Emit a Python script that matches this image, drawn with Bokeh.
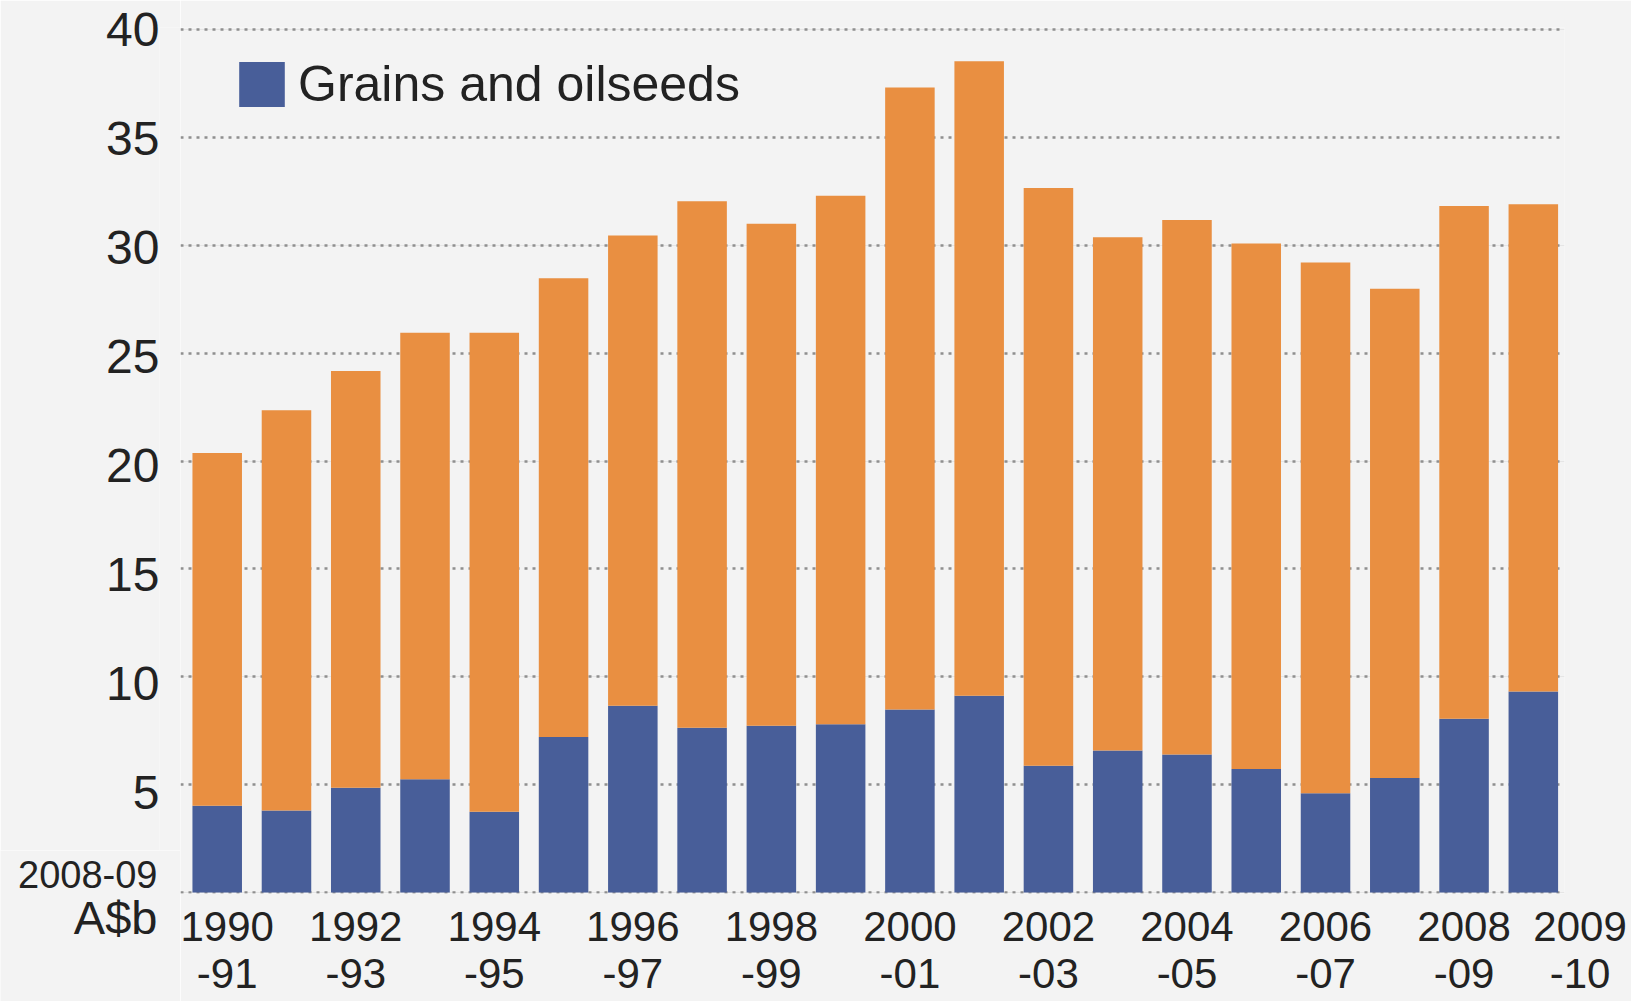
from bokeh.plotting import figure
from bokeh.layouts import row, column
from bokeh.models import (Range1d, FixedTicker, Legend, LegendItem, Label, Grid,
                          ColumnDataSource)
from bokeh.embed import file_html
from bokeh.resources import INLINE

# ---- data (A$b, 2008-09 dollars) ----
categories = ["1990-91", "1991-92", "1992-93", "1993-94", "1994-95", "1995-96",
              "1996-97", "1997-98", "1998-99", "1999-00", "2000-01", "2001-02",
              "2002-03", "2003-04", "2004-05", "2005-06", "2006-07", "2007-08",
              "2008-09", "2009-10"]
grains = [4.02, 3.80, 4.85, 5.25, 3.74, 7.20, 8.66, 7.64, 7.73, 7.80,
          8.48, 9.12, 5.87, 6.58, 6.40, 5.72, 4.60, 5.30, 8.05, 9.32]
total = [20.37, 22.35, 24.17, 25.95, 25.95, 28.47, 30.46, 32.05, 31.00, 32.30,
         37.32, 38.54, 32.66, 30.38, 31.17, 30.08, 29.21, 27.99, 31.82, 31.90]
y_ticks = [0, 5, 10, 15, 20, 25, 30, 35, 40]
tick_index = [0, 2, 4, 6, 8, 10, 12, 14, 16, 18, 19]
tick_top = ["1990", "1992", "1994", "1996", "1998", "2000", "2002", "2004",
            "2006", "2008", "2009"]
tick_bottom = ["-91", "-93", "-95", "-97", "-99", "-01", "-03", "-05",
               "-07", "-09", "-10"]
legend_label = "Grains and oilseeds"
unit_top = "2008-09"
unit_bottom = "A$b"

BLUE = "#485e99"
ORANGE = "#e98f41"
BG = "#f3f3f3"
TXT = "#222222"
GRID = "#8f8f8f"
FONT = "Liberation Sans"

# ---- layout geometry (pixels) ----
W, H = 1631, 1001
LEFT_W = 180                 # width of the y-label column
FRAME_TOP, FRAME_BOT = 27, 893
Y_LO, Y_HI = -0.05, 40.1
LBL_TOP, LBL_PX = 29.3, 21.8  # the original's tick labels sit on a slightly wider pitch
SPLIT = 850                  # where the y-label column hands over to unit text


def styled(fig):
    fig.background_fill_color = BG
    fig.border_fill_color = BG
    fig.outline_line_color = None
    fig.frame_align = False
    return fig


# ---------------- main chart ----------------
x = list(range(len(categories)))
src = ColumnDataSource(dict(x=x, cat=categories, grains=grains, total=total))

p = styled(figure(width=W - LEFT_W, height=H,
                  x_range=Range1d(-0.53, 19.45), y_range=Range1d(Y_LO, Y_HI),
                  y_axis_location=None,
                  output_backend="svg", toolbar_location=None,
                  min_border_left=0, min_border_right=67,
                  min_border_top=FRAME_TOP, min_border_bottom=H - FRAME_BOT))
p.xgrid.visible = False

grid = Grid(dimension=1, ticker=FixedTicker(ticks=y_ticks),
            grid_line_color=GRID, grid_line_width=2.5, grid_line_dash="3 5")
p.add_layout(grid)

blue_r = p.vbar(x="x", bottom=0, top="grains", width=0.715, source=src,
                fill_color=BLUE, line_color=None)
p.vbar(x="x", bottom="grains", top="total", width=0.715, source=src,
       fill_color=ORANGE, line_color=None)

# x axis: two-line year labels; the last one is nudged right as in the original
fs = "\u2007"
overrides = {}
for k, (i, a, b) in enumerate(zip(tick_index, tick_top, tick_bottom)):
    pad = fs * 4 if k == len(tick_index) - 1 else ""
    overrides[i] = pad + a + "\n" + pad + b
xax = p.xaxis[0]
xax.ticker = FixedTicker(ticks=tick_index)
xax.major_label_overrides = overrides
xax.axis_line_color = None
xax.major_tick_line_color = None
xax.minor_tick_line_color = None
xax.major_tick_out = 0
xax.major_tick_in = 0
xax.major_label_standoff = 9
xax.major_label_text_font = FONT
xax.major_label_text_font_size = "42px"
xax.major_label_text_color = TXT
xax.major_label_text_line_height = 1.0

legend = Legend(items=[LegendItem(label=legend_label, renderers=[blue_r])],
                location=(53, 777), glyph_width=57, glyph_height=56,
                label_height=64,
                label_text_font=FONT, label_text_font_size="50px",
                label_text_color=TXT, label_standoff=8,
                padding=0, margin=0, spacing=0,
                border_line_color=None, background_fill_alpha=0)
p.add_layout(legend)

# ---------------- y tick labels ----------------
y_top = 40 + (LBL_TOP - FRAME_TOP) / LBL_PX
py = styled(figure(width=LEFT_W, height=SPLIT,
                   x_range=Range1d(0, 1),
                   y_range=Range1d(y_top - (SPLIT - FRAME_TOP) / LBL_PX, y_top),
                   x_axis_location=None,
                   output_backend="svg", toolbar_location=None,
                   min_border_left=159, min_border_right=0,
                   min_border_top=FRAME_TOP, min_border_bottom=0))
py.grid.visible = False
yax = py.yaxis[0]
yax.ticker = FixedTicker(ticks=y_ticks)
yax.axis_line_color = None
yax.major_tick_line_color = None
yax.minor_tick_line_color = None
yax.major_tick_out = 0
yax.major_tick_in = 0
yax.major_label_standoff = 0
yax.major_label_text_font = FONT
yax.major_label_text_font_size = "48px"
yax.major_label_text_color = TXT

# ---------------- unit label ----------------
pu = styled(figure(width=LEFT_W, height=H - SPLIT,
                   x_range=Range1d(0, LEFT_W), y_range=Range1d(H, SPLIT),
                   x_axis_location=None, y_axis_location=None,
                   output_backend="svg", toolbar_location=None,
                   min_border_left=0, min_border_right=0,
                   min_border_top=0, min_border_bottom=0))
pu.grid.visible = False
pu.add_layout(Label(x=157, y=873.5, text=unit_top, text_align="right",
                    text_baseline="middle", text_font=FONT,
                    text_font_size="38px", text_color=TXT))
pu.add_layout(Label(x=157, y=917, text=unit_bottom, text_align="right",
                    text_baseline="middle", text_font=FONT,
                    text_font_size="47px", text_color=TXT))

layout = row(column(py, pu, spacing=0), p, spacing=0)
open("out.html", "w").write(file_html(layout, INLINE))
